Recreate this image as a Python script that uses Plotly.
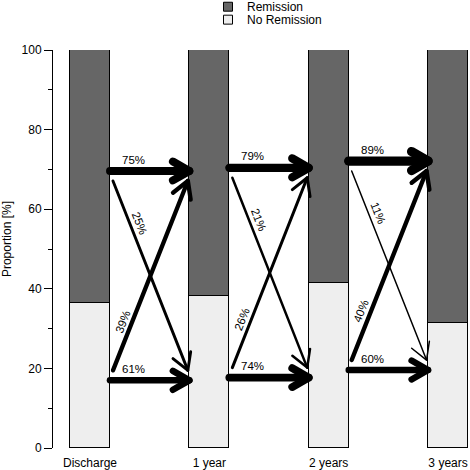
import math
import plotly.graph_objects as go

# ---- data ----
categories = ["Discharge", "1 year", "2 years", "3 years"]
no_remission = [36.5, 38.1, 41.4, 31.5]
remission = [100 - v for v in no_remission]

# transitions between consecutive time points (percent labels)
stay_remission = [75, 79, 89]      # Remission -> Remission
rem_to_norem = [25, 21, 11]        # Remission -> No Remission
norem_to_rem = [39, 26, 40]        # No Remission -> Remission
stay_norem = [61, 74, 60]          # No Remission -> No Remission
arrow_top_y = [69.6, 70.4, 72.1]   # level of the upper arrows
arrow_bottom_y = [17.0, 17.7, 19.6]  # level of the lower arrows

y_ticks = [0, 20, 40, 60, 80, 100]

# ---- layout constants ----
W, H = 470, 470
ML, MR, MT, MB = 53, 0, 50, 20
PW, PH = W - ML - MR, H - MT - MB
x_lo, x_hi = -0.31, 3.184
ppx = PW / (x_hi - x_lo)
ppy = PH / 100.0
bar_w = 0.335
hw = bar_w / 2
DARK = "#666666"
LIGHT = "#eeeeee"
FONT = "Liberation Sans, Arial, Helvetica, sans-serif"

fig = go.Figure()
xs = list(range(len(categories)))
fig.add_trace(go.Bar(x=xs, y=no_remission, width=bar_w, marker=dict(color=LIGHT, line=dict(color="black", width=1)),
                     name="No Remission", showlegend=False))
fig.add_trace(go.Bar(x=xs, y=remission, width=bar_w, marker=dict(color=DARK, line=dict(color="black", width=1)),
                     name="Remission", showlegend=False))

annotations = []
HEAD = 19.0
ANG = math.radians(30)


def arrow(x0, y0, x1, y1, pct):
    vx, vy = (x1 - x0) * ppx, (y1 - y0) * ppy
    n = math.hypot(vx, vy)
    bx, by = -vx / n, -vy / n
    wings = []
    for a in (ANG, -ANG):
        rx = bx * math.cos(a) - by * math.sin(a)
        ry = bx * math.sin(a) + by * math.cos(a)
        wings.append((x1 + rx * HEAD / ppx, y1 + ry * HEAD / ppy))
    w = pct / 10.0 + 0.4
    fig.add_trace(go.Scatter(
        x=[x0, x1, None, wings[0][0], x1, wings[1][0]],
        y=[y0, y1, None, wings[0][1], y1, wings[1][1]],
        mode="lines", line=dict(color="black", width=w), hoverinfo="skip", showlegend=False))


def diag_label(x0, y0, x1, y1, txt):
    vx, vy = (x1 - x0) * ppx, -(y1 - y0) * ppy  # screen coords (y down)
    theta = math.degrees(math.atan2(vy, vx))
    t = math.radians(theta)
    ux, uy = math.sin(t), -math.cos(t)  # text "up" direction in screen
    cx = x0 * ppx + 0.24 * vx + 9 * ux
    cy = -y0 * ppy + 0.24 * vy + 9 * uy
    annotations.append(dict(x=cx / ppx, y=-cy / ppy, xref="x", yref="y", text=txt, showarrow=False,
                            textangle=theta, font=dict(size=11.5, color="black", family=FONT),
                            xanchor="center", yanchor="middle"))


DIAG = 2.5
gap0, gap1 = 3 / ppx, 1.5 / ppx
for i in range(len(categories) - 1):
    xa, xb = i + hw, i + 1 - hw
    yt, yb = arrow_top_y[i], arrow_bottom_y[i]
    arrow(xa, yt, xb, yt, stay_remission[i])
    arrow(xa, yb, xb, yb, stay_norem[i])
    arrow(xa + gap0, yt - DIAG, xb - gap1, yb + DIAG, rem_to_norem[i])
    arrow(xa + gap0, yb + DIAG, xb - gap1, yt - DIAG, norem_to_rem[i])
    diag_label(xa + gap0, yt - DIAG, xb - gap1, yb + DIAG, f"{rem_to_norem[i]}%")
    diag_label(xa + gap0, yb + DIAG, xb - gap1, yt - DIAG, f"{norem_to_rem[i]}%")
    for yy, pct in ((yt, stay_remission[i]), (yb, stay_norem[i])):
        annotations.append(dict(x=xa + 10 / ppx, y=yy + 11.5 / ppy, xref="x", yref="y", text=f"{pct}%",
                                showarrow=False, xanchor="left", yanchor="middle",
                                font=dict(size=11.5, color="black", family=FONT)))

# legend (manual)
shapes = []
for row, (lab, col) in enumerate((("Remission", DARK), ("No Remission", LIGHT))):
    cy = 6.5 + row * 13
    shapes.append(dict(type="rect", xref="paper", yref="paper",
                       x0=(223.5 - ML) / PW, x1=(232.5 - ML) / PW,
                       y0=(H - MB - (cy + 4.5)) / PH, y1=(H - MB - (cy - 4.5)) / PH,
                       fillcolor=col, line=dict(color="black", width=1)))
    annotations.append(dict(x=(245 - ML) / PW, y=(H - MB - cy) / PH, xref="paper", yref="paper", text=lab,
                            showarrow=False, xanchor="left", yanchor="middle",
                            font=dict(size=12, color="black", family=FONT)))

annotations.append(dict(x=(7 - ML) / PW, y=(H - MB - 240) / PH, xref="paper", yref="paper",
                        text="Proportion [%]", showarrow=False, textangle=-90,
                        xanchor="center", yanchor="middle",
                        font=dict(size=12, color="black", family=FONT)))

fig.update_layout(
    width=W, height=H, margin=dict(l=ML, r=MR, t=MT, b=MB, pad=0),
    barmode="stack", bargap=0, plot_bgcolor="white", paper_bgcolor="white",
    font=dict(family=FONT, size=12, color="black"),
    annotations=annotations, shapes=shapes, showlegend=False,
    xaxis=dict(range=[x_lo, x_hi], tickvals=xs, ticktext=categories, showgrid=False, zeroline=False,
               showline=False, ticks="outside", ticklen=4, tickcolor="rgba(0,0,0,0)",
               tickfont=dict(size=12, family=FONT, color="black"), fixedrange=True),
    yaxis=dict(range=[0, 100], tickvals=y_ticks, showgrid=False, zeroline=False, showline=True,
               linecolor="black", linewidth=1, ticks="outside", ticklen=8, tickcolor="black",
               tickfont=dict(size=12, family=FONT, color="black"),
               minor=dict(dtick=10, ticks="outside", ticklen=4, tickcolor="black"), fixedrange=True),
)

post = (
    "document.body.style.margin='0px';document.body.style.overflow='hidden';"
    "document.querySelectorAll('.scatterlayer path.js-line').forEach(function(p){"
    "p.style.strokeLinejoin='round';p.style.strokeLinecap='round';});"
)
fig.write_html("out.html", config={"displayModeBar": False}, post_script=post)
